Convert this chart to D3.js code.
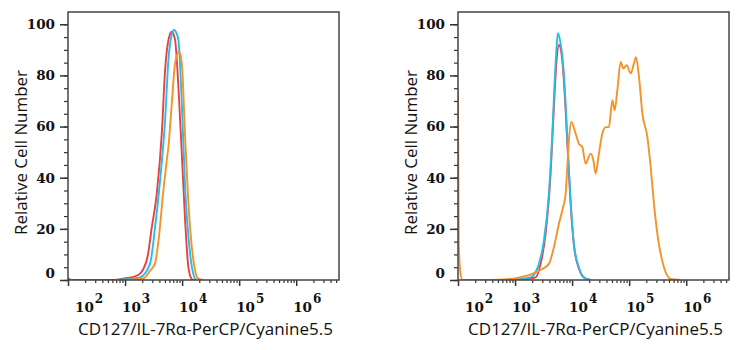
<!DOCTYPE html>
<html><head><meta charset="utf-8">
<script src="https://cdn.jsdelivr.net/npm/d3@7"></script>
<style>body{margin:0;background:#fff}</style>
</head><body><svg id="c" width="740" height="350"></svg>
<script>
const decades = [100, 1000, 10000, 100000, 1000000];
const decadeExps = ["2", "3", "4", "5", "6"];
const yTicks = [0, 20, 40, 60, 80, 100];
const yTitle = "Relative Cell Number";
const xTitle = "CD127/IL-7R\u03b1-PerCP/Cyanine5.5";
const seriesNames = ["red", "cyan", "orange"];

// Left panel: [intensity, relative cell number]
const leftRed = [[100,0.8],[112,0],[600,0],[817,0.3],[1084,0.8],[1400,1.2],[1833,2.5],[2094,4.3],[2500,9.5],[2940,20.6],[3596,33.7],[4403,57.3],[5032,82],[5754,93.8],[6597,97.1],[7535,93.8],[8610,75.5],[9880,49.4],[11290,23.3],[12910,4.9],[14790,0.3],[16000,0]];
const leftCyan = [[700,0],[817,0.2],[1300,0.5],[1833,1.0],[2746,6.4],[3357,20.6],[4109,38.9],[5032,62.5],[5754,86],[6597,96],[7250,97.8],[7535,97.5],[8610,93.8],[9880,69.1],[11290,36.3],[13810,10.3],[16900,0.5],[18000,0]];
const leftOrange = [[1000,0],[1225,0.2],[2094,0.6],[2746,3.6],[3357,6.5],[3837,15],[4698,35],[5392,47],[5754,52],[6597,69],[7535,84.8],[8855,89.3],[9880,84.8],[11290,55.9],[12910,29.9],[15780,7.6],[19320,0.5],[23650,0]];

// Right panel
const rightRed = [[900,0],[1500,0.3],[2291,1],[2801,6.3],[3426,18],[4196,41.6],[4798,67.7],[5349,86],[5868,91.9],[6728,86],[7697,66.4],[8441,49],[9413,30],[10760,13.5],[13160,4.5],[16100,1],[21130,0]];
const rightCyan = [[800,0],[1200,0.3],[1871,1],[2617,6.3],[3199,15.4],[3917,33.7],[4496,57.3],[4933,76.9],[5349,91.2],[5636,96.5],[6282,92.5],[7011,83.4],[7697,69],[8441,50.7],[9413,31.1],[10760,14.1],[13160,4.9],[16100,1],[21130,0]];
const rightOrange = [[98,75],[100,70],[103,15],[110,3],[119,0],[372,0],[834,0.4],[1094,0.8],[1638,1.7],[2291,3],[2999,4.3],[3917,6.3],[4798,12.8],[5868,22],[6728,27.2],[7697,33.7],[8240,44.2],[8790,54.6],[9681,61.8],[11520,57.3],[13160,53.3],[15090,52],[17250,45.5],[21130,49.4],[23560,46.8],[25830,41.6],[29510,49.4],[33880,57.3],[38720,59.8],[44240,59.8],[50730,70.3],[55690,66.4],[62090,74.2],[70960,85.3],[79130,82.7],[90380,84],[106200,80.8],[121400,84.7],[131600,87.1],[148500,79.5],[170500,65.1],[208600,55.9],[238400,44.2],[272300,29.8],[312300,18],[408200,4.9],[535000,0.4],[801000,0]];

const colors = {red: "#e8413f", cyan: "#27bde9", orange: "#f5922a"};
const svg = d3.select("#c");

const xDomain = [100, Math.pow(10, 6.75)];
const yDomain = [0, 104.8];
const plotTop = 12, plotBottom = 280, pw = 271;

function fitText(sel, target, base) {
  const len = sel.node().getComputedTextLength();
  if (len > 0) sel.attr("font-size", base * target / len);
}

function panel(idx, x0, series) {
  const g = svg.append("g");
  const x = d3.scaleLog().domain(xDomain).range([x0, x0 + pw]);
  const y = d3.scaleLinear().domain(yDomain).range([plotBottom, plotTop]);
  const cid = "clip" + idx;
  svg.append("defs").append("clipPath").attr("id", cid)
    .append("rect").attr("x", x0).attr("y", plotTop).attr("width", pw).attr("height", plotBottom - plotTop);

  const yMinor = d3.range(0, 101, 5);
  g.append("g").attr("transform", `translate(${x0},0)`)
    .call(d3.axisLeft(y).tickValues(yMinor).tickSize(4).tickFormat(""))
    .call(a => a.select(".domain").remove())
    .call(a => a.selectAll("line").attr("stroke", "#333").attr("stroke-width", 1.2));
  const ya = g.append("g").attr("transform", `translate(${x0},0)`)
    .call(d3.axisLeft(y).tickValues(yTicks).tickSize(8).tickPadding(5))
    .call(a => a.select(".domain").remove());
  ya.selectAll("line").attr("stroke", "#333").attr("stroke-width", 1.5);
  ya.selectAll("text").attr("font-family", "DejaVu Serif").attr("font-weight", "bold")
    .attr("font-size", 13.5).attr("fill", "#111")
    .attr("dy", d => d === 0 ? "-0.22em" : "0.32em");

  const minor = [];
  for (let e = 2; e <= 6; e++) for (let m = 2; m <= 9; m++) {
    const v = m * Math.pow(10, e);
    if (v <= xDomain[1]) minor.push(v);
  }
  g.append("g").attr("transform", `translate(0,${plotBottom})`)
    .call(d3.axisBottom(x).tickValues(minor).tickSize(3).tickFormat(""))
    .call(a => a.select(".domain").remove())
    .call(a => a.selectAll("line").attr("stroke", "#333").attr("stroke-width", 1.2));
  const xa = g.append("g").attr("transform", `translate(0,${plotBottom})`)
    .call(d3.axisBottom(x).tickValues(decades).tickSize(6).tickFormat(""))
    .call(a => a.select(".domain").remove());
  xa.selectAll("line").attr("stroke", "#333").attr("stroke-width", 1.5);

  decades.forEach((d, i) => {
    const px = Math.max(x(d) - 3, x0 + 7);
    const t = g.append("text").attr("x", px).attr("y", 311.5)
      .attr("font-family", "DejaVu Serif").attr("font-weight", "bold")
      .attr("font-size", 13.5).attr("fill", "#111");
    t.append("tspan").text("10");
    t.append("tspan").attr("dx", 1).attr("dy", -9).attr("font-size", 12).text(decadeExps[i]);
  });

  const line = d3.line().x(d => x(d[0])).y(d => y(d[1])).curve(d3.curveMonotoneX);
  const cg = g.append("g").attr("clip-path", `url(#${cid})`);
  seriesNames.forEach(n => {
    cg.append("path").datum(series[n]).attr("d", line)
      .attr("fill", "none").attr("stroke", colors[n]).attr("stroke-width", 1.9)
      .attr("stroke-linejoin", "round");
  });

  g.append("rect").attr("x", x0).attr("y", plotTop).attr("width", pw).attr("height", plotBottom - plotTop)
    .attr("fill", "none").attr("stroke", "#444").attr("stroke-width", 1.5);

  const yt = g.append("text").attr("transform", `translate(${x0 - 41},152.5) rotate(-90)`)
    .attr("text-anchor", "middle").attr("font-family", "Open Sans")
    .attr("font-size", 15).attr("fill", "#111").text(yTitle);
  fitText(yt, 165, 15);
  const xt = g.append("text").attr("x", x0 + pw / 2 + 2).attr("y", 335)
    .attr("text-anchor", "middle").attr("font-family", "Open Sans")
    .attr("font-size", 15.5).attr("fill", "#111").text(xTitle);
  fitText(xt, 255, 15.5);
}

panel(0, 68, {red: leftRed, cyan: leftCyan, orange: leftOrange});
panel(1, 458, {red: rightRed, cyan: rightCyan, orange: rightOrange});
</script></body></html>
